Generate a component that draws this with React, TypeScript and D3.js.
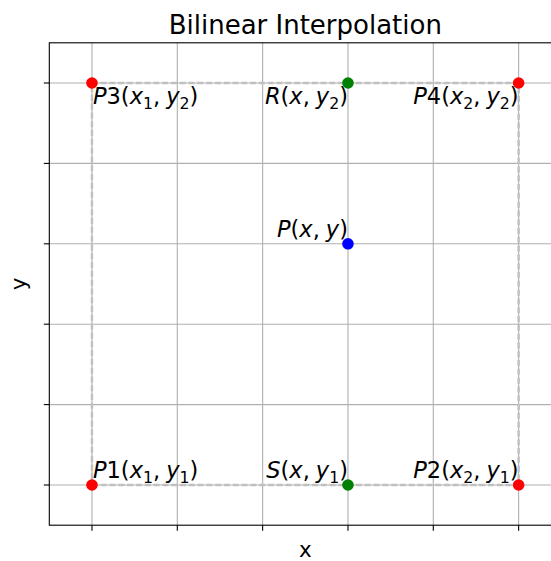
import React from "react";
import * as d3 from "d3";

const W = 551;
const H = 561;

// data
const tickValues = [0, 1, 2, 3, 4, 5];
const pointMain = ["P", "P", "P", "P", "R", "S", "P"];
const pointNum = ["1", "2", "3", "4", "", "", ""];
const pointX = [0, 5, 0, 5, 3, 3, 3];
const pointY = [0, 0, 5, 5, 5, 0, 3];
const xSub = ["1", "2", "1", "2", "", "", ""];
const ySub = ["1", "1", "2", "2", "2", "1", ""];
const pointColor = ["#ff0000", "#ff0000", "#ff0000", "#ff0000", "#008000", "#008000", "#0000ff"];
const labelHAlign = ["left", "right", "left", "right", "right", "right", "right"];
const labelVAlign = ["bottom", "bottom", "top", "top", "top", "bottom", "bottom"];
const rectOrder = [0, 1, 3, 2, 0];

const FONT = "DejaVu Sans";

export default function App() {
  const x = d3.scaleLinear().domain([-0.5, 5.5]).range([49.3, 561.3]);
  const y = d3.scaleLinear().domain([-0.5, 5.5]).range([525.2, 42.8]);
  const line = d3
    .line<number>()
    .x((i) => x(pointX[i]))
    .y((i) => y(pointY[i]));

  const fs = 22.5;
  const subFs = fs * 0.7;
  const subDy = 4.5;

  return (
    <svg
      width={W}
      height={H}
      style={{ position: "absolute", left: 0, top: 0, background: "#fff" }}
      fontFamily={FONT}
    >
      <rect x={0} y={0} width={W} height={H} fill="#fff" />
      {/* grid */}
      {tickValues.map((t) => (
        <line key={"gx" + t} x1={x(t)} x2={x(t)} y1={y(5.5)} y2={y(-0.5)} stroke="#b0b0b0" strokeWidth={1.1} />
      ))}
      {tickValues.map((t) => (
        <line key={"gy" + t} y1={y(t)} y2={y(t)} x1={x(-0.5)} x2={x(5.5)} stroke="#b0b0b0" strokeWidth={1.1} />
      ))}
      {/* dashed rectangle */}
      <path
        d={line(rectOrder) || ""}
        fill="none"
        stroke="#c0c0c0"
        strokeWidth={2.4}
        strokeDasharray="6,2.8"
      />
      {/* points */}
      {pointX.map((v, i) => (
        <circle key={"p" + i} cx={x(v)} cy={y(pointY[i])} r={5.8} fill={pointColor[i]} />
      ))}
      {/* labels */}
      {pointX.map((v, i) => {
        const px = x(v);
        const py = y(pointY[i]);
        const anchor = labelHAlign[i] === "left" ? "start" : "end";
        const tx = labelHAlign[i] === "left" ? px + 1 : px;
        const ty = labelVAlign[i] === "top" ? py + 21 : py - 7;
        return (
          <text key={"t" + i} x={tx} y={ty} fontSize={fs} textAnchor={anchor} fill="#000" xmlSpace="preserve">
            <tspan fontStyle="italic">{pointMain[i]}</tspan>
            {pointNum[i] && <tspan>{pointNum[i]}</tspan>}
            <tspan>(</tspan>
            <tspan fontStyle="italic">x</tspan>
            {xSub[i] && (
              <tspan fontSize={subFs} dy={subDy}>
                {xSub[i]}
              </tspan>
            )}
            <tspan dy={xSub[i] ? -subDy : 0}>,</tspan>
            <tspan fontStyle="italic" dx={6}>
              y
            </tspan>
            {ySub[i] && (
              <tspan fontSize={subFs} dy={subDy}>
                {ySub[i]}
              </tspan>
            )}
            <tspan dy={ySub[i] ? -subDy : 0}>)</tspan>
          </text>
        );
      })}
      {/* spines */}
      <rect
        x={x(-0.5)}
        y={y(5.5)}
        width={x(5.5) - x(-0.5)}
        height={y(-0.5) - y(5.5)}
        fill="none"
        stroke="#000"
        strokeWidth={1.1}
      />
      {/* ticks */}
      {tickValues.map((t) => (
        <line key={"tx" + t} x1={x(t)} x2={x(t)} y1={y(-0.5)} y2={y(-0.5) + 5.5} stroke="#000" strokeWidth={1.1} />
      ))}
      {tickValues.map((t) => (
        <line key={"ty" + t} y1={y(t)} y2={y(t)} x1={x(-0.5)} x2={x(-0.5) - 5.5} stroke="#000" strokeWidth={1.1} />
      ))}
      {/* titles */}
      <text x={(x(-0.5) + x(5.5)) / 2} y={34} fontSize={26} textAnchor="middle" fill="#000">
        Bilinear Interpolation
      </text>
      <text x={(x(-0.5) + x(5.5)) / 2} y={557} fontSize={21.5} textAnchor="middle" fill="#000">
        x
      </text>
      <text
        transform={`translate(${26},${(y(-0.5) + y(5.5)) / 2}) rotate(-90)`}
        fontSize={21.5}
        textAnchor="middle"
        fill="#000"
      >
        y
      </text>
    </svg>
  );
}
